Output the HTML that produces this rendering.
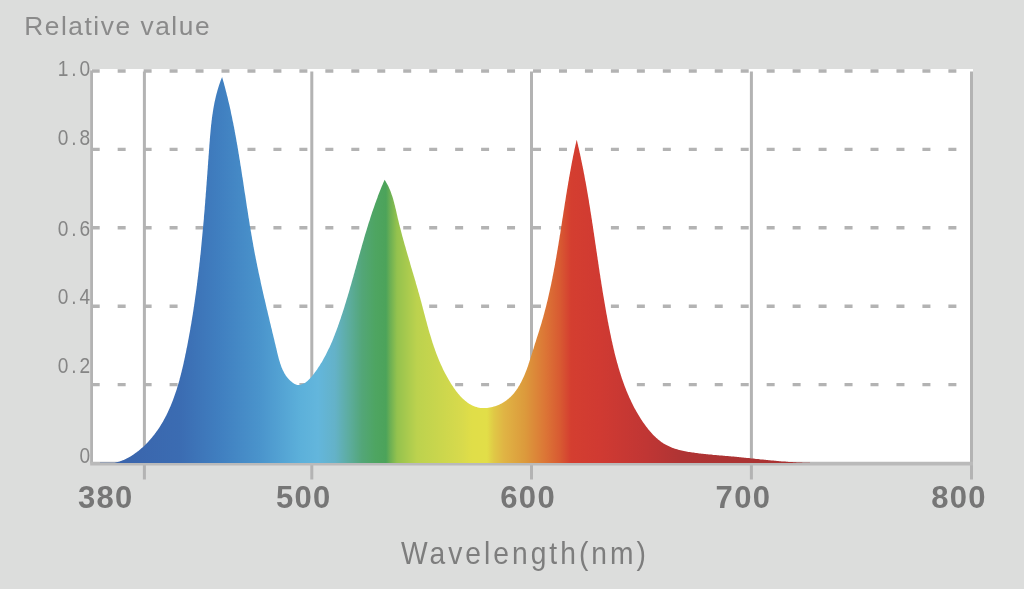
<!DOCTYPE html>
<html><head><meta charset="utf-8"><style>
html,body{margin:0;padding:0;background:#dcdddc;width:1024px;height:589px;overflow:hidden}
svg{position:absolute;left:0;top:0;filter:blur(0.4px)}
text{font-family:"Liberation Sans",sans-serif}
</style></head><body>
<svg width="1024" height="589" viewBox="0 0 1024 589">
<defs><linearGradient id="g" gradientUnits="userSpaceOnUse" x1="100" y1="0" x2="805" y2="0">
<stop offset="0.0000" stop-color="#3a62aa"/>
<stop offset="0.1135" stop-color="#3b6cb2"/>
<stop offset="0.1702" stop-color="#407fc0"/>
<stop offset="0.2270" stop-color="#4a94cc"/>
<stop offset="0.2837" stop-color="#5cb0da"/>
<stop offset="0.3092" stop-color="#63b6dc"/>
<stop offset="0.3333" stop-color="#64b2c8"/>
<stop offset="0.3546" stop-color="#5cac9c"/>
<stop offset="0.3716" stop-color="#53a678"/>
<stop offset="0.3901" stop-color="#4ea562"/>
<stop offset="0.4057" stop-color="#4ca35a"/>
<stop offset="0.4113" stop-color="#6aaf54"/>
<stop offset="0.4213" stop-color="#94c24e"/>
<stop offset="0.4496" stop-color="#bcd24e"/>
<stop offset="0.5135" stop-color="#d8da4c"/>
<stop offset="0.5277" stop-color="#e0de48"/>
<stop offset="0.5489" stop-color="#e2de48"/>
<stop offset="0.5589" stop-color="#e0c846"/>
<stop offset="0.5730" stop-color="#e0b444"/>
<stop offset="0.6028" stop-color="#dc9a3c"/>
<stop offset="0.6312" stop-color="#dc7636"/>
<stop offset="0.6525" stop-color="#d85a32"/>
<stop offset="0.6681" stop-color="#d43e30"/>
<stop offset="0.7092" stop-color="#d03a32"/>
<stop offset="0.7745" stop-color="#c03634"/>
<stop offset="0.8227" stop-color="#b03434"/>
<stop offset="1.0000" stop-color="#a83232"/>
</linearGradient></defs>
<rect x="0" y="0" width="1024" height="589" fill="#dcdddc"/>
<rect x="91" y="69" width="882" height="394" fill="#ffffff"/>
<line x1="91.7" y1="71.0" x2="971" y2="71.0" stroke="#b3b3b3" stroke-width="3.4" stroke-dasharray="8 17.96"/>
<line x1="91.7" y1="149.4" x2="971" y2="149.4" stroke="#b3b3b3" stroke-width="3.4" stroke-dasharray="8 17.96"/>
<line x1="91.7" y1="227.8" x2="971" y2="227.8" stroke="#b3b3b3" stroke-width="3.4" stroke-dasharray="8 17.96"/>
<line x1="91.7" y1="306.2" x2="971" y2="306.2" stroke="#b3b3b3" stroke-width="3.4" stroke-dasharray="8 17.96"/>
<line x1="91.7" y1="384.6" x2="971" y2="384.6" stroke="#b3b3b3" stroke-width="3.4" stroke-dasharray="8 17.96"/>
<line x1="144.4" y1="71.5" x2="144.4" y2="479.5" stroke="#b3b3b3" stroke-width="3"/>
<line x1="311.8" y1="71.5" x2="311.8" y2="479.5" stroke="#b3b3b3" stroke-width="3"/>
<line x1="531.5" y1="71.5" x2="531.5" y2="479.5" stroke="#b3b3b3" stroke-width="3"/>
<line x1="751.4" y1="71.5" x2="751.4" y2="479.5" stroke="#b3b3b3" stroke-width="3"/>
<line x1="91.6" y1="70.5" x2="91.6" y2="463.5" stroke="#b3b3b3" stroke-width="2.8"/>
<line x1="971.5" y1="71.5" x2="971.5" y2="479.5" stroke="#b3b3b3" stroke-width="3"/>
<line x1="90.2" y1="463.6" x2="973" y2="463.6" stroke="#bababa" stroke-width="3.8"/>
<path d="M100.0,462.8 L101.2,462.8 L102.3,462.8 L103.4,462.8 L104.6,462.8 L105.7,462.8 L106.8,462.8 L107.9,462.8 L109.1,462.8 L110.2,462.8 L111.2,462.8 L112.3,462.8 L113.4,462.8 L114.5,462.8 L115.5,462.5 L116.6,462.3 L117.6,462.0 L118.7,461.7 L119.7,461.4 L120.7,461.1 L121.7,460.7 L122.7,460.3 L123.7,459.9 L124.7,459.4 L125.7,459.0 L126.6,458.5 L127.6,458.0 L128.6,457.5 L129.5,457.0 L130.4,456.4 L131.3,455.9 L132.3,455.3 L133.2,454.7 L134.1,454.1 L134.9,453.5 L135.8,452.8 L136.7,452.2 L137.5,451.5 L138.4,450.9 L139.2,450.2 L140.1,449.5 L140.9,448.8 L141.7,448.1 L142.5,447.4 L143.3,446.7 L144.1,445.9 L144.8,445.2 L145.6,444.5 L146.3,443.7 L147.1,443.0 L147.8,442.2 L148.5,441.4 L149.2,440.6 L149.9,439.9 L150.6,439.1 L151.3,438.3 L152.0,437.5 L152.7,436.6 L153.3,435.8 L154.0,435.0 L154.6,434.2 L155.2,433.3 L155.9,432.5 L156.5,431.6 L157.1,430.8 L157.7,429.9 L158.3,429.1 L158.9,428.2 L159.5,427.3 L160.0,426.4 L160.6,425.5 L161.1,424.6 L161.7,423.7 L162.2,422.8 L162.8,421.9 L163.3,421.0 L163.8,420.1 L164.3,419.1 L164.8,418.2 L165.3,417.3 L165.8,416.3 L166.3,415.4 L166.7,414.4 L167.2,413.5 L167.7,412.5 L168.1,411.5 L168.6,410.6 L169.0,409.6 L169.5,408.6 L169.9,407.6 L170.3,406.7 L170.7,405.7 L171.1,404.7 L171.5,403.7 L171.9,402.7 L172.3,401.7 L172.7,400.7 L173.1,399.7 L173.5,398.6 L173.9,397.6 L174.2,396.6 L174.6,395.6 L174.9,394.5 L175.3,393.5 L175.6,392.5 L176.0,391.4 L176.3,390.4 L176.7,389.4 L177.0,388.3 L177.3,387.3 L177.6,386.2 L177.9,385.2 L178.3,384.1 L178.6,383.1 L178.9,382.0 L179.2,381.0 L179.5,379.9 L179.7,378.8 L180.0,377.8 L180.3,376.7 L180.6,375.6 L180.9,374.6 L181.1,373.5 L181.4,372.4 L181.7,371.3 L181.9,370.3 L182.2,369.2 L182.5,368.1 L182.7,367.0 L183.0,366.0 L183.2,364.9 L183.5,363.8 L183.7,362.7 L183.9,361.6 L184.2,360.6 L184.4,359.5 L184.6,358.4 L184.9,357.3 L185.1,356.2 L185.3,355.1 L185.5,354.1 L185.8,353.0 L186.0,351.9 L186.2,350.8 L186.4,349.7 L186.6,348.6 L186.9,347.6 L187.1,346.5 L187.3,345.4 L187.5,344.3 L187.7,343.2 L187.9,342.2 L188.1,341.1 L188.3,340.0 L188.5,338.9 L188.7,337.9 L188.9,336.8 L189.1,335.7 L189.3,334.6 L189.5,333.6 L189.7,332.5 L189.9,331.4 L190.1,330.3 L190.3,329.3 L190.4,328.2 L190.6,327.1 L190.8,326.0 L191.0,325.0 L191.2,323.9 L191.4,322.8 L191.5,321.7 L191.7,320.7 L191.9,319.6 L192.1,318.5 L192.2,317.5 L192.4,316.4 L192.6,315.3 L192.8,314.2 L192.9,313.2 L193.1,312.1 L193.3,311.0 L193.4,310.0 L193.6,308.9 L193.7,307.8 L193.9,306.8 L194.1,305.7 L194.2,304.6 L194.4,303.5 L194.5,302.5 L194.7,301.4 L194.8,300.3 L195.0,299.3 L195.1,298.2 L195.3,297.1 L195.4,296.1 L195.6,295.0 L195.7,293.9 L195.9,292.9 L196.0,291.8 L196.2,290.7 L196.3,289.7 L196.5,288.6 L196.6,287.5 L196.7,286.5 L196.9,285.4 L197.0,284.3 L197.1,283.3 L197.3,282.2 L197.4,281.1 L197.5,280.1 L197.7,279.0 L197.8,278.0 L197.9,276.9 L198.1,275.8 L198.2,274.8 L198.3,273.7 L198.4,272.6 L198.6,271.6 L198.7,270.5 L198.8,269.4 L198.9,268.4 L199.1,267.3 L199.2,266.2 L199.3,265.2 L199.4,264.1 L199.5,263.1 L199.7,262.0 L199.8,260.9 L199.9,259.9 L200.0,258.8 L200.1,257.7 L200.2,256.7 L200.3,255.6 L200.5,254.5 L200.6,253.5 L200.7,252.4 L200.8,251.3 L200.9,250.3 L201.0,249.2 L201.1,248.1 L201.2,247.1 L201.3,246.0 L201.4,245.0 L201.5,243.9 L201.6,242.8 L201.7,241.8 L201.8,240.7 L201.9,239.6 L202.0,238.6 L202.1,237.5 L202.2,236.4 L202.3,235.4 L202.4,234.3 L202.5,233.2 L202.6,232.2 L202.7,231.1 L202.8,230.0 L202.9,229.0 L203.0,227.9 L203.1,226.8 L203.2,225.8 L203.3,224.7 L203.4,223.6 L203.5,222.6 L203.6,221.5 L203.7,220.4 L203.8,219.4 L203.9,218.3 L203.9,217.2 L204.0,216.1 L204.1,215.1 L204.2,214.0 L204.3,212.9 L204.4,211.9 L204.5,210.8 L204.6,209.7 L204.7,208.7 L204.7,207.6 L204.8,206.5 L204.9,205.4 L205.0,204.4 L205.1,203.3 L205.2,202.2 L205.2,201.2 L205.3,200.1 L205.4,199.0 L205.5,197.9 L205.6,196.9 L205.7,195.8 L205.7,194.7 L205.8,193.6 L205.9,192.6 L206.0,191.5 L206.1,190.4 L206.2,189.3 L206.2,188.3 L206.3,187.2 L206.4,186.1 L206.5,185.0 L206.6,183.9 L206.6,182.9 L206.7,181.8 L206.8,180.7 L206.9,179.6 L207.0,178.5 L207.0,177.5 L207.1,176.4 L207.2,175.3 L207.3,174.2 L207.4,173.1 L207.4,172.1 L207.5,171.0 L207.6,169.9 L207.7,168.8 L207.8,167.7 L207.8,166.6 L207.9,165.5 L208.0,164.5 L208.1,163.4 L208.1,162.3 L208.2,161.2 L208.3,160.1 L208.4,159.0 L208.5,157.9 L208.5,156.8 L208.6,155.8 L208.7,154.7 L208.8,153.6 L208.9,152.5 L208.9,151.4 L209.0,150.3 L209.1,149.2 L209.2,148.1 L209.3,147.0 L209.3,145.9 L209.4,144.8 L209.5,143.7 L209.6,142.6 L209.7,141.5 L209.8,140.4 L209.8,139.4 L209.9,138.3 L210.0,137.2 L210.1,136.1 L210.2,135.0 L210.3,133.9 L210.4,132.8 L210.5,131.7 L210.6,130.6 L210.7,129.5 L210.8,128.4 L210.9,127.3 L211.0,126.2 L211.1,125.1 L211.3,124.1 L211.4,123.0 L211.5,121.9 L211.6,120.8 L211.8,119.7 L211.9,118.6 L212.0,117.6 L212.2,116.5 L212.3,115.4 L212.5,114.3 L212.7,113.2 L212.8,112.2 L213.0,111.1 L213.2,110.0 L213.3,109.0 L213.5,107.9 L213.7,106.8 L213.9,105.8 L214.1,104.7 L214.3,103.6 L214.5,102.6 L214.7,101.5 L215.0,100.5 L215.2,99.4 L215.4,98.4 L215.7,97.3 L215.9,96.3 L216.2,95.3 L216.4,94.2 L216.7,93.2 L217.0,92.2 L217.3,91.1 L217.6,90.1 L217.9,89.1 L218.2,88.1 L218.5,87.1 L218.8,86.0 L219.1,85.0 L219.5,84.0 L219.8,83.0 L220.2,82.0 L220.5,81.0 L220.9,80.0 L221.3,79.1 L221.7,78.1 L222.1,77.1 L222.5,78.4 L222.9,79.7 L223.2,81.0 L223.6,82.3 L224.0,83.6 L224.3,84.9 L224.7,86.3 L225.0,87.6 L225.4,88.9 L225.7,90.2 L226.0,91.5 L226.4,92.8 L226.7,94.2 L227.0,95.5 L227.4,96.8 L227.7,98.1 L228.0,99.5 L228.3,100.8 L228.6,102.1 L229.0,103.5 L229.3,104.8 L229.6,106.1 L229.9,107.5 L230.2,108.8 L230.5,110.1 L230.8,111.5 L231.0,112.8 L231.3,114.2 L231.6,115.5 L231.9,116.8 L232.2,118.2 L232.4,119.5 L232.7,120.9 L233.0,122.2 L233.3,123.6 L233.5,124.9 L233.8,126.3 L234.1,127.6 L234.3,129.0 L234.6,130.3 L234.8,131.7 L235.1,133.0 L235.3,134.4 L235.6,135.7 L235.8,137.1 L236.1,138.5 L236.3,139.8 L236.5,141.2 L236.8,142.5 L237.0,143.9 L237.3,145.3 L237.5,146.6 L237.7,148.0 L238.0,149.3 L238.2,150.7 L238.4,152.1 L238.6,153.4 L238.9,154.8 L239.1,156.2 L239.3,157.5 L239.5,158.9 L239.8,160.3 L240.0,161.6 L240.2,163.0 L240.4,164.4 L240.6,165.7 L240.9,167.1 L241.1,168.5 L241.3,169.8 L241.5,171.2 L241.7,172.6 L241.9,173.9 L242.1,175.3 L242.3,176.7 L242.6,178.0 L242.8,179.4 L243.0,180.8 L243.2,182.1 L243.4,183.5 L243.6,184.9 L243.8,186.3 L244.0,187.6 L244.2,189.0 L244.4,190.4 L244.6,191.7 L244.8,193.1 L245.1,194.5 L245.3,195.8 L245.5,197.2 L245.7,198.6 L245.9,199.9 L246.1,201.3 L246.3,202.7 L246.5,204.0 L246.7,205.4 L246.9,206.8 L247.1,208.1 L247.4,209.5 L247.6,210.9 L247.8,212.2 L248.0,213.6 L248.2,215.0 L248.4,216.3 L248.6,217.7 L248.9,219.1 L249.1,220.4 L249.3,221.8 L249.5,223.1 L249.7,224.5 L249.9,225.9 L250.2,227.2 L250.4,228.6 L250.6,229.9 L250.8,231.3 L251.1,232.6 L251.3,234.0 L251.5,235.3 L251.8,236.7 L252.0,238.1 L252.2,239.4 L252.5,240.8 L252.7,242.1 L253.0,243.5 L253.2,244.8 L253.4,246.2 L253.7,247.5 L253.9,248.8 L254.2,250.2 L254.4,251.5 L254.7,252.9 L254.9,254.2 L255.2,255.6 L255.5,256.9 L255.7,258.2 L256.0,259.6 L256.3,260.9 L256.5,262.2 L256.8,263.6 L257.1,264.9 L257.3,266.2 L257.6,267.6 L257.9,268.9 L258.2,270.2 L258.4,271.6 L258.7,272.9 L259.0,274.2 L259.3,275.6 L259.6,276.9 L259.9,278.2 L260.2,279.6 L260.5,280.9 L260.7,282.2 L261.0,283.6 L261.3,284.9 L261.6,286.2 L261.9,287.5 L262.2,288.9 L262.5,290.2 L262.8,291.5 L263.1,292.9 L263.4,294.2 L263.7,295.5 L264.0,296.9 L264.3,298.2 L264.7,299.5 L265.0,300.9 L265.3,302.2 L265.6,303.6 L265.9,304.9 L266.2,306.2 L266.5,307.6 L266.8,308.9 L267.2,310.2 L267.5,311.6 L267.8,312.9 L268.1,314.3 L268.4,315.6 L268.8,317.0 L269.1,318.3 L269.4,319.7 L269.7,321.0 L270.0,322.4 L270.4,323.7 L270.7,325.1 L271.0,326.4 L271.3,327.8 L271.7,329.1 L272.0,330.5 L272.3,331.9 L272.6,333.2 L273.0,334.6 L273.3,336.0 L273.6,337.3 L274.0,338.7 L274.3,340.1 L274.6,341.4 L274.9,342.8 L275.3,344.2 L275.6,345.6 L275.9,347.0 L276.3,348.3 L276.6,349.7 L276.9,351.1 L277.2,352.5 L277.6,353.9 L277.9,355.3 L278.3,356.7 L278.6,358.0 L279.0,359.4 L279.4,360.8 L279.8,362.1 L280.2,363.5 L280.7,364.8 L281.1,366.1 L281.6,367.4 L282.1,368.6 L282.7,369.9 L283.3,371.1 L283.9,372.3 L284.5,373.5 L285.2,374.6 L285.9,375.7 L286.7,376.8 L287.5,377.8 L288.4,378.8 L289.3,379.8 L290.3,380.7 L291.3,381.6 L292.4,382.5 L293.5,383.3 L294.7,384.0 L296.0,384.5 L297.2,384.9 L298.6,385.0 L299.9,384.9 L301.2,384.6 L302.5,384.1 L303.8,383.6 L305.0,382.9 L306.1,382.1 L307.2,381.2 L308.2,380.3 L309.2,379.3 L310.2,378.3 L311.1,377.3 L312.0,376.2 L312.9,375.1 L313.8,373.9 L314.6,372.8 L315.4,371.7 L316.3,370.5 L317.1,369.4 L317.8,368.2 L318.6,367.1 L319.4,365.9 L320.1,364.7 L320.8,363.6 L321.6,362.4 L322.3,361.2 L323.0,360.0 L323.6,358.8 L324.3,357.6 L324.9,356.4 L325.6,355.2 L326.2,354.0 L326.8,352.8 L327.4,351.6 L328.0,350.3 L328.6,349.1 L329.2,347.9 L329.8,346.7 L330.3,345.4 L330.9,344.2 L331.4,342.9 L332.0,341.7 L332.5,340.4 L333.0,339.2 L333.5,337.9 L334.0,336.6 L334.5,335.4 L335.0,334.1 L335.5,332.8 L336.0,331.6 L336.5,330.3 L336.9,329.0 L337.4,327.7 L337.9,326.4 L338.3,325.1 L338.8,323.9 L339.2,322.6 L339.7,321.3 L340.1,320.0 L340.6,318.7 L341.0,317.4 L341.4,316.1 L341.9,314.8 L342.3,313.5 L342.7,312.2 L343.1,310.9 L343.6,309.5 L344.0,308.2 L344.4,306.9 L344.8,305.6 L345.2,304.3 L345.6,303.0 L346.0,301.7 L346.4,300.3 L346.8,299.0 L347.2,297.7 L347.6,296.4 L348.0,295.1 L348.4,293.7 L348.8,292.4 L349.2,291.1 L349.6,289.8 L349.9,288.4 L350.3,287.1 L350.7,285.8 L351.1,284.4 L351.5,283.1 L351.8,281.8 L352.2,280.4 L352.6,279.1 L353.0,277.8 L353.4,276.4 L353.7,275.1 L354.1,273.8 L354.5,272.4 L354.8,271.1 L355.2,269.8 L355.6,268.4 L356.0,267.1 L356.3,265.8 L356.7,264.4 L357.1,263.1 L357.4,261.8 L357.8,260.4 L358.2,259.1 L358.6,257.8 L358.9,256.4 L359.3,255.1 L359.7,253.8 L360.1,252.4 L360.4,251.1 L360.8,249.8 L361.2,248.4 L361.6,247.1 L361.9,245.8 L362.3,244.4 L362.7,243.1 L363.1,241.8 L363.5,240.5 L363.9,239.1 L364.2,237.8 L364.6,236.5 L365.0,235.1 L365.4,233.8 L365.8,232.5 L366.2,231.2 L366.6,229.9 L367.0,228.5 L367.4,227.2 L367.8,225.9 L368.2,224.6 L368.6,223.3 L369.0,222.0 L369.5,220.7 L369.9,219.4 L370.3,218.0 L370.7,216.7 L371.1,215.4 L371.6,214.1 L372.0,212.8 L372.4,211.5 L372.9,210.2 L373.3,208.9 L373.8,207.7 L374.2,206.4 L374.7,205.1 L375.1,203.8 L375.6,202.5 L376.1,201.2 L376.5,199.9 L377.0,198.7 L377.5,197.4 L377.9,196.1 L378.4,194.8 L378.9,193.6 L379.4,192.3 L379.9,191.0 L380.4,189.8 L380.9,188.5 L381.4,187.3 L381.9,186.0 L382.5,184.8 L383.0,183.5 L383.5,182.3 L384.1,181.0 L384.6,179.8 L385.4,181.0 L386.1,182.2 L386.8,183.4 L387.4,184.6 L388.1,185.8 L388.7,187.0 L389.2,188.3 L389.8,189.6 L390.3,190.8 L390.8,192.1 L391.3,193.4 L391.7,194.7 L392.2,196.0 L392.6,197.3 L393.0,198.6 L393.4,199.9 L393.7,201.3 L394.1,202.6 L394.4,203.9 L394.8,205.3 L395.1,206.6 L395.4,208.0 L395.8,209.3 L396.1,210.7 L396.4,212.0 L396.7,213.4 L397.0,214.7 L397.3,216.1 L397.6,217.5 L397.9,218.8 L398.3,220.2 L398.6,221.5 L398.9,222.9 L399.2,224.2 L399.6,225.6 L399.9,226.9 L400.3,228.3 L400.6,229.6 L401.0,231.0 L401.3,232.3 L401.7,233.7 L402.0,235.0 L402.4,236.4 L402.8,237.7 L403.1,239.1 L403.5,240.4 L403.9,241.7 L404.2,243.1 L404.6,244.4 L405.0,245.8 L405.4,247.1 L405.8,248.5 L406.1,249.8 L406.5,251.1 L406.9,252.5 L407.3,253.8 L407.7,255.2 L408.1,256.5 L408.5,257.8 L408.9,259.2 L409.3,260.5 L409.7,261.8 L410.1,263.2 L410.4,264.5 L410.8,265.8 L411.2,267.2 L411.6,268.5 L412.0,269.8 L412.4,271.2 L412.8,272.5 L413.2,273.8 L413.6,275.2 L414.0,276.5 L414.4,277.8 L414.8,279.2 L415.2,280.5 L415.6,281.8 L415.9,283.2 L416.3,284.5 L416.7,285.8 L417.1,287.2 L417.5,288.5 L417.9,289.8 L418.2,291.2 L418.6,292.5 L419.0,293.8 L419.4,295.2 L419.7,296.5 L420.1,297.8 L420.5,299.2 L420.8,300.5 L421.2,301.8 L421.5,303.1 L421.9,304.5 L422.2,305.8 L422.6,307.1 L422.9,308.5 L423.3,309.8 L423.6,311.1 L424.0,312.5 L424.3,313.8 L424.7,315.1 L425.0,316.5 L425.4,317.8 L425.7,319.1 L426.1,320.4 L426.5,321.8 L426.8,323.1 L427.2,324.4 L427.5,325.7 L427.9,327.1 L428.3,328.4 L428.6,329.7 L429.0,331.0 L429.4,332.4 L429.8,333.7 L430.2,335.0 L430.6,336.3 L431.0,337.6 L431.4,339.0 L431.8,340.3 L432.2,341.6 L432.6,342.9 L433.1,344.2 L433.5,345.5 L433.9,346.8 L434.4,348.1 L434.9,349.5 L435.3,350.8 L435.8,352.1 L436.3,353.4 L436.8,354.7 L437.3,356.0 L437.8,357.3 L438.3,358.6 L438.9,359.9 L439.4,361.2 L440.0,362.5 L440.5,363.8 L441.1,365.0 L441.7,366.3 L442.3,367.6 L442.9,368.9 L443.5,370.2 L444.2,371.5 L444.8,372.7 L445.5,374.0 L446.2,375.3 L446.9,376.6 L447.6,377.8 L448.3,379.1 L449.1,380.4 L449.8,381.6 L450.6,382.9 L451.4,384.2 L452.2,385.4 L453.0,386.6 L453.8,387.9 L454.7,389.1 L455.5,390.3 L456.4,391.4 L457.3,392.6 L458.2,393.7 L459.2,394.8 L460.1,395.9 L461.1,396.9 L462.1,397.9 L463.1,398.9 L464.1,399.8 L465.1,400.7 L466.2,401.6 L467.3,402.4 L468.4,403.2 L469.5,403.9 L470.6,404.6 L471.8,405.2 L472.9,405.8 L474.1,406.3 L475.3,406.7 L476.6,407.1 L477.8,407.4 L479.1,407.7 L480.4,407.9 L481.7,408.0 L483.0,408.1 L484.4,408.1 L485.7,408.1 L487.1,408.0 L488.4,407.8 L489.8,407.6 L491.1,407.3 L492.5,407.0 L493.8,406.6 L495.2,406.2 L496.5,405.7 L497.8,405.2 L499.1,404.7 L500.4,404.1 L501.6,403.4 L502.8,402.7 L504.0,402.0 L505.2,401.2 L506.3,400.4 L507.4,399.6 L508.5,398.7 L509.5,397.8 L510.5,396.9 L511.4,395.9 L512.4,395.0 L513.3,393.9 L514.2,392.9 L515.0,391.8 L515.9,390.7 L516.7,389.6 L517.5,388.4 L518.2,387.3 L518.9,386.1 L519.7,384.9 L520.3,383.6 L521.0,382.4 L521.7,381.1 L522.3,379.8 L522.9,378.6 L523.5,377.2 L524.1,375.9 L524.7,374.6 L525.2,373.2 L525.7,371.9 L526.3,370.5 L526.8,369.2 L527.3,367.8 L527.8,366.4 L528.3,365.0 L528.7,363.6 L529.2,362.2 L529.6,360.8 L530.1,359.4 L530.5,358.0 L531.0,356.6 L531.4,355.2 L531.8,353.9 L532.3,352.5 L532.7,351.1 L533.1,349.7 L533.6,348.4 L534.0,347.0 L534.4,345.7 L534.8,344.3 L535.2,343.0 L535.7,341.7 L536.1,340.3 L536.5,339.0 L536.9,337.7 L537.3,336.4 L537.8,335.1 L538.2,333.8 L538.6,332.5 L539.0,331.2 L539.4,329.9 L539.8,328.6 L540.2,327.3 L540.6,326.0 L541.0,324.7 L541.4,323.4 L541.8,322.1 L542.1,320.8 L542.5,319.5 L542.9,318.2 L543.3,316.9 L543.6,315.6 L544.0,314.2 L544.3,312.9 L544.7,311.6 L545.0,310.3 L545.4,309.0 L545.7,307.7 L546.1,306.3 L546.4,305.0 L546.7,303.7 L547.0,302.4 L547.4,301.0 L547.7,299.7 L548.0,298.4 L548.3,297.0 L548.6,295.7 L548.9,294.3 L549.2,293.0 L549.5,291.7 L549.8,290.3 L550.1,289.0 L550.4,287.6 L550.7,286.3 L551.0,284.9 L551.3,283.6 L551.5,282.2 L551.8,280.9 L552.1,279.5 L552.4,278.2 L552.6,276.8 L552.9,275.4 L553.2,274.1 L553.4,272.7 L553.7,271.4 L553.9,270.0 L554.2,268.6 L554.5,267.3 L554.7,265.9 L555.0,264.5 L555.2,263.2 L555.4,261.8 L555.7,260.4 L555.9,259.1 L556.2,257.7 L556.4,256.3 L556.6,254.9 L556.9,253.6 L557.1,252.2 L557.3,250.8 L557.6,249.4 L557.8,248.1 L558.0,246.7 L558.3,245.3 L558.5,243.9 L558.7,242.5 L558.9,241.2 L559.2,239.8 L559.4,238.4 L559.6,237.0 L559.8,235.6 L560.1,234.3 L560.3,232.9 L560.5,231.5 L560.7,230.1 L560.9,228.7 L561.1,227.3 L561.4,226.0 L561.6,224.6 L561.8,223.2 L562.0,221.8 L562.2,220.4 L562.4,219.0 L562.7,217.6 L562.9,216.3 L563.1,214.9 L563.3,213.5 L563.5,212.1 L563.7,210.7 L564.0,209.3 L564.2,208.0 L564.4,206.6 L564.6,205.2 L564.8,203.8 L565.0,202.4 L565.3,201.0 L565.5,199.7 L565.7,198.3 L565.9,196.9 L566.1,195.5 L566.4,194.1 L566.6,192.8 L566.8,191.4 L567.0,190.0 L567.3,188.6 L567.5,187.3 L567.7,185.9 L568.0,184.5 L568.2,183.1 L568.4,181.8 L568.7,180.4 L568.9,179.0 L569.1,177.6 L569.4,176.3 L569.6,174.9 L569.9,173.5 L570.1,172.2 L570.4,170.8 L570.6,169.4 L570.9,168.1 L571.1,166.7 L571.4,165.3 L571.6,164.0 L571.9,162.6 L572.1,161.3 L572.4,159.9 L572.7,158.5 L572.9,157.2 L573.2,155.8 L573.5,154.5 L573.8,153.1 L574.1,151.8 L574.3,150.4 L574.6,149.1 L574.9,147.7 L575.2,146.4 L575.5,145.1 L575.8,143.7 L576.1,142.4 L576.4,141.0 L576.7,139.7 L577.0,140.9 L577.3,142.0 L577.5,143.2 L577.8,144.3 L578.1,145.5 L578.3,146.7 L578.6,147.8 L578.9,149.0 L579.1,150.1 L579.4,151.3 L579.6,152.4 L579.9,153.6 L580.2,154.8 L580.4,155.9 L580.7,157.1 L580.9,158.2 L581.1,159.4 L581.4,160.6 L581.6,161.7 L581.9,162.9 L582.1,164.0 L582.3,165.2 L582.6,166.3 L582.8,167.5 L583.0,168.6 L583.3,169.8 L583.5,171.0 L583.7,172.1 L583.9,173.3 L584.2,174.4 L584.4,175.6 L584.6,176.7 L584.8,177.9 L585.0,179.1 L585.2,180.2 L585.5,181.4 L585.7,182.5 L585.9,183.7 L586.1,184.8 L586.3,186.0 L586.5,187.1 L586.7,188.3 L586.9,189.4 L587.1,190.6 L587.3,191.8 L587.5,192.9 L587.7,194.1 L587.9,195.2 L588.1,196.4 L588.3,197.5 L588.5,198.7 L588.7,199.8 L588.9,201.0 L589.0,202.2 L589.2,203.3 L589.4,204.5 L589.6,205.6 L589.8,206.8 L590.0,207.9 L590.2,209.1 L590.3,210.2 L590.5,211.4 L590.7,212.5 L590.9,213.7 L591.1,214.9 L591.3,216.0 L591.4,217.2 L591.6,218.3 L591.8,219.5 L592.0,220.6 L592.1,221.8 L592.3,222.9 L592.5,224.1 L592.7,225.3 L592.8,226.4 L593.0,227.6 L593.2,228.7 L593.4,229.9 L593.5,231.0 L593.7,232.2 L593.9,233.3 L594.1,234.5 L594.2,235.7 L594.4,236.8 L594.6,238.0 L594.7,239.1 L594.9,240.3 L595.1,241.4 L595.2,242.6 L595.4,243.7 L595.6,244.9 L595.8,246.1 L595.9,247.2 L596.1,248.4 L596.3,249.5 L596.4,250.7 L596.6,251.8 L596.8,253.0 L597.0,254.2 L597.1,255.3 L597.3,256.5 L597.5,257.6 L597.6,258.8 L597.8,260.0 L598.0,261.1 L598.2,262.3 L598.3,263.4 L598.5,264.6 L598.7,265.7 L598.8,266.9 L599.0,268.1 L599.2,269.2 L599.4,270.4 L599.5,271.5 L599.7,272.7 L599.9,273.9 L600.1,275.0 L600.3,276.2 L600.4,277.4 L600.6,278.5 L600.8,279.7 L601.0,280.8 L601.2,282.0 L601.3,283.2 L601.5,284.3 L601.7,285.5 L601.9,286.7 L602.1,287.8 L602.3,289.0 L602.4,290.1 L602.6,291.3 L602.8,292.5 L603.0,293.6 L603.2,294.8 L603.4,296.0 L603.6,297.1 L603.8,298.3 L604.0,299.5 L604.2,300.6 L604.4,301.8 L604.6,303.0 L604.8,304.1 L605.0,305.3 L605.2,306.5 L605.4,307.6 L605.6,308.8 L605.8,310.0 L606.0,311.1 L606.2,312.3 L606.4,313.5 L606.6,314.6 L606.9,315.8 L607.1,317.0 L607.3,318.2 L607.5,319.3 L607.7,320.5 L607.9,321.7 L608.2,322.8 L608.4,324.0 L608.6,325.2 L608.9,326.4 L609.1,327.5 L609.3,328.7 L609.6,329.9 L609.8,331.1 L610.0,332.2 L610.3,333.4 L610.5,334.6 L610.8,335.8 L611.0,336.9 L611.2,338.1 L611.5,339.3 L611.7,340.5 L612.0,341.6 L612.3,342.8 L612.5,344.0 L612.8,345.2 L613.1,346.3 L613.3,347.5 L613.6,348.7 L613.9,349.9 L614.2,351.0 L614.4,352.2 L614.7,353.4 L615.0,354.5 L615.3,355.7 L615.6,356.9 L615.9,358.0 L616.2,359.2 L616.5,360.3 L616.8,361.5 L617.1,362.7 L617.5,363.8 L617.8,365.0 L618.1,366.1 L618.4,367.3 L618.8,368.4 L619.1,369.6 L619.5,370.7 L619.8,371.9 L620.2,373.0 L620.5,374.1 L620.9,375.3 L621.3,376.4 L621.6,377.5 L622.0,378.7 L622.4,379.8 L622.8,380.9 L623.2,382.0 L623.6,383.2 L624.0,384.3 L624.4,385.4 L624.8,386.5 L625.2,387.6 L625.7,388.7 L626.1,389.8 L626.5,390.9 L627.0,392.0 L627.4,393.1 L627.9,394.2 L628.4,395.3 L628.8,396.3 L629.3,397.4 L629.8,398.5 L630.3,399.5 L630.8,400.6 L631.3,401.7 L631.8,402.7 L632.3,403.8 L632.8,404.8 L633.4,405.9 L633.9,406.9 L634.4,407.9 L635.0,409.0 L635.6,410.0 L636.1,411.0 L636.7,412.0 L637.3,413.0 L637.9,414.1 L638.5,415.1 L639.1,416.1 L639.7,417.0 L640.3,418.0 L640.9,419.0 L641.6,420.0 L642.2,421.0 L642.9,421.9 L643.6,422.9 L644.2,423.8 L644.9,424.8 L645.6,425.7 L646.3,426.7 L647.0,427.6 L647.7,428.5 L648.4,429.4 L649.2,430.3 L649.9,431.2 L650.7,432.1 L651.5,433.0 L652.2,433.8 L653.0,434.7 L653.8,435.5 L654.6,436.3 L655.5,437.1 L656.3,437.9 L657.2,438.6 L658.0,439.4 L658.9,440.1 L659.8,440.8 L660.7,441.5 L661.6,442.2 L662.6,442.8 L663.5,443.4 L664.5,444.0 L665.4,444.6 L666.4,445.1 L667.4,445.6 L668.5,446.1 L669.5,446.6 L670.6,447.1 L671.6,447.5 L672.7,447.9 L673.8,448.3 L674.9,448.7 L676.0,449.0 L677.1,449.3 L678.2,449.7 L679.3,450.0 L680.5,450.3 L681.6,450.5 L682.8,450.8 L683.9,451.0 L685.1,451.3 L686.3,451.5 L687.4,451.7 L688.6,451.9 L689.8,452.1 L691.0,452.3 L692.2,452.5 L693.4,452.6 L694.6,452.8 L695.7,453.0 L696.9,453.1 L698.1,453.3 L699.3,453.4 L700.5,453.6 L701.7,453.7 L702.9,453.8 L704.1,453.9 L705.3,454.1 L706.5,454.2 L707.7,454.3 L708.9,454.4 L710.1,454.5 L711.2,454.6 L712.4,454.7 L713.6,454.9 L714.8,455.0 L716.0,455.1 L717.2,455.2 L718.4,455.3 L719.6,455.4 L720.8,455.5 L722.0,455.6 L723.2,455.7 L724.3,455.8 L725.5,455.9 L726.7,456.0 L727.9,456.1 L729.1,456.2 L730.3,456.3 L731.4,456.4 L732.6,456.5 L733.8,456.6 L735.0,456.7 L736.1,456.8 L737.3,457.0 L738.5,457.1 L739.7,457.2 L740.8,457.3 L742.0,457.4 L743.2,457.5 L744.3,457.7 L745.5,457.8 L746.7,457.9 L747.8,458.0 L749.0,458.1 L750.2,458.3 L751.3,458.4 L752.5,458.5 L753.7,458.6 L754.8,458.8 L756.0,458.9 L757.2,459.0 L758.3,459.1 L759.5,459.2 L760.7,459.4 L761.8,459.5 L763.0,459.6 L764.2,459.7 L765.3,459.8 L766.5,460.0 L767.6,460.1 L768.8,460.2 L770.0,460.3 L771.1,460.4 L772.3,460.5 L773.5,460.6 L774.6,460.7 L775.8,460.8 L777.0,461.0 L778.1,461.1 L779.3,461.2 L780.5,461.3 L781.6,461.4 L782.8,461.4 L784.0,461.5 L785.2,461.6 L786.3,461.7 L787.5,461.8 L788.7,461.9 L789.8,462.0 L791.0,462.1 L792.2,462.1 L793.4,462.2 L794.6,462.3 L795.7,462.3 L796.9,462.4 L798.1,462.5 L799.3,462.5 L800.5,462.6 L801.7,462.6 L802.8,462.7 L804.0,462.7 L805.2,462.8 L806.4,462.8 L807.6,462.8 L808.8,462.8 L810.0,462.8 L810,463 L100,463 Z" fill="url(#g)"/>
<text x="24.2" y="35" font-size="26.3" fill="#8a8a8a" letter-spacing="1.55">Relative value</text>
<g fill="#858585" font-size="22.5" text-anchor="end" letter-spacing="3.4">
<text transform="translate(93.0,75.9) scale(0.85,1)">1.0</text>
<text transform="translate(93.0,144.9) scale(0.85,1)">0.8</text>
<text transform="translate(93.0,235.9) scale(0.85,1)">0.6</text>
<text transform="translate(93.0,303.7) scale(0.85,1)">0.4</text>
<text transform="translate(93.0,372.5) scale(0.85,1)">0.2</text>
<text transform="translate(93.0,463.4) scale(0.85,1)">0</text>
</g>
<g fill="#767676" font-size="31" font-weight="bold" letter-spacing="1.3">
<text x="78" y="507.6">380</text>
<text x="276" y="507.6">500</text>
<text x="500.3" y="507.6">600</text>
<text x="715.6" y="507.6">700</text>
<text x="931.2" y="507.6">800</text>
</g>
<text transform="translate(401,564.3) scale(0.91,1)" x="0" y="0" font-size="31" fill="#7d7d7d" letter-spacing="3.3">Wavelength(nm)</text>
</svg>
</body></html>
